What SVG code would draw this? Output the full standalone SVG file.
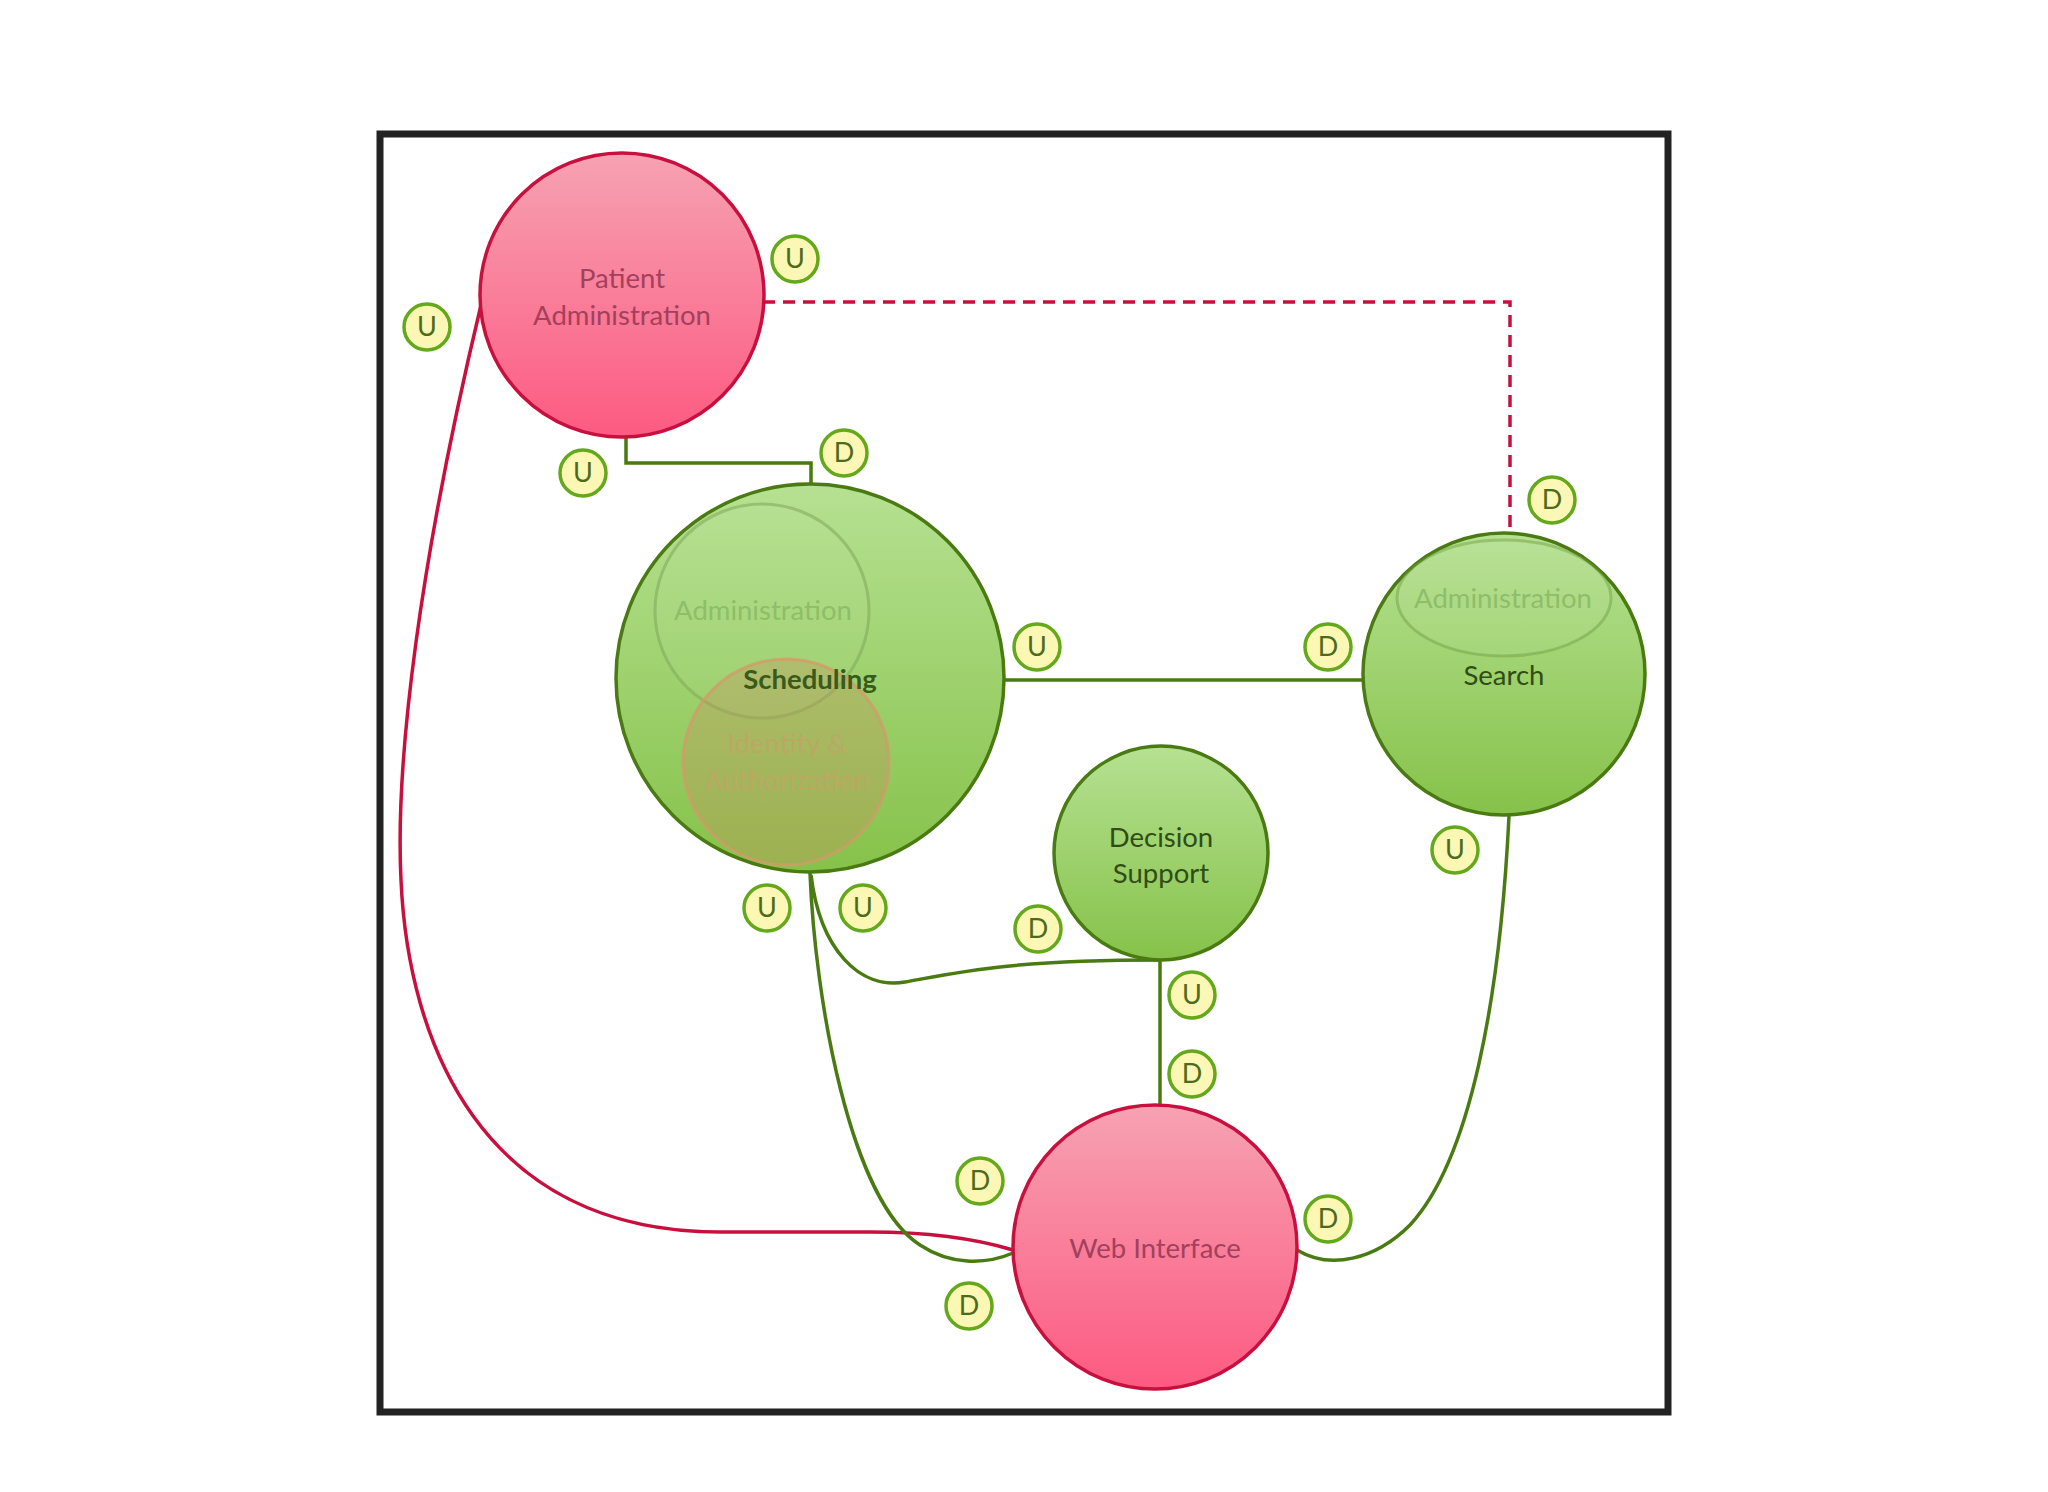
<svg xmlns="http://www.w3.org/2000/svg" width="2048" height="1492" viewBox="0 0 2048 1492">
<defs>
<linearGradient id="pink" x1="0" y1="0" x2="0" y2="1">
<stop offset="0" stop-color="#f6a2b2"/>
<stop offset="1" stop-color="#fd5a81"/>
</linearGradient>
<linearGradient id="green" x1="0" y1="0" x2="0" y2="1">
<stop offset="0" stop-color="#b6e192"/>
<stop offset="1" stop-color="#86c24a"/>
</linearGradient>
<style>
.pink{fill:url(#pink);stroke:#c8103e;stroke-width:3.5}
.green{fill:url(#green);stroke:#4a7a12;stroke-width:3.5}
.lbl{font-family:Lato,"Liberation Sans",sans-serif;font-size:27.5px;text-anchor:middle}
.pl{fill:#a3405c}
.gl{fill:#2f4d14}
.faint{fill:#8ebe68}
.badge circle{fill:#fcf7b4;stroke:#64a81c;stroke-width:3.5}
.badge text{font-family:Lato,"Liberation Sans",sans-serif;font-size:27px;fill:#4d6b1c;text-anchor:middle}
.gc{fill:none;stroke:#4a7a12;stroke-width:3.5}
.rc{fill:none;stroke:#c8103e;stroke-width:3.5}
</style>
</defs>
<rect x="0" y="0" width="2048" height="1492" fill="#ffffff"/>
<rect id="frame" x="380" y="134" width="1288" height="1278" fill="none" stroke="#222222" stroke-width="7"/>

<g id="connectors">
<path class="gc" d="M 626 437 L 626 463 L 811 463 L 811 485"/>
<path class="rc" stroke-dasharray="12 8" d="M 763 302 L 1510 302 L 1510 534"/>
<path class="gc" d="M 1005 680 L 1363 680"/>
<path class="rc" d="M 481 305 C 420 560, 395 760, 401 880 C 408 1040, 480 1232, 720 1232 L 870 1232 C 930 1232, 980 1240, 1013 1250"/>
<path class="gc" d="M 810 873 C 815 1000, 850 1200, 920 1245 C 950 1265, 985 1265, 1013 1253"/>
<path class="gc" d="M 811 875 C 820 950, 860 990, 905 982 C 960 972, 1010 960, 1161 960"/>
<path class="gc" d="M 1160 960 L 1160 1105"/>
<path class="gc" d="M 1297 1250 C 1330 1270, 1375 1260, 1410 1225 C 1470 1160, 1500 1000, 1509 816"/>
</g>

<g id="patient-administration">
<circle class="pink" cx="622" cy="295" r="142"/>
<text class="lbl pl" x="622" y="288">Patient</text>
<text class="lbl pl" x="622" y="325">Administration</text>
</g>

<g id="scheduling">
<circle class="green" cx="810" cy="678" r="194"/>
<circle cx="762" cy="611" r="107" fill="#ffffff" fill-opacity="0.04" stroke="#7fa85a" stroke-opacity="0.55" stroke-width="3"/>
<text class="lbl faint" x="763" y="620">Administration</text>
<circle cx="786" cy="762" r="103" fill="#c8905e" fill-opacity="0.33" stroke="#d49a68" stroke-opacity="0.75" stroke-width="3"/>
<text class="lbl" x="787" y="753" fill="#bba862">Identity &amp;</text>
<text class="lbl" x="787" y="790" fill="#bba862">Authorization</text>
<text class="lbl" x="810" y="689" fill="#3a5a1c" font-weight="bold" font-size="28.5">Scheduling</text>
</g>

<g id="search">
<circle class="green" cx="1504" cy="674" r="141"/>
<ellipse cx="1504" cy="598" rx="107" ry="58" fill="#ffffff" fill-opacity="0.05" stroke="#6f9c40" stroke-opacity="0.45" stroke-width="3"/>
<text class="lbl faint" x="1503" y="608">Administration</text>
<text class="lbl gl" x="1504" y="685">Search</text>
</g>

<g id="decision-support">
<circle class="green" cx="1161" cy="853" r="107"/>
<text class="lbl gl" x="1161" y="847">Decision</text>
<text class="lbl gl" x="1161" y="883">Support</text>
</g>

<g id="web-interface">
<circle class="pink" cx="1155" cy="1247" r="142"/>
<text class="lbl pl" x="1155" y="1258">Web Interface</text>
</g>

<g id="badges">
<g class="badge"><circle cx="795" cy="259" r="23"/><text x="795" y="268">U</text></g>
<g class="badge"><circle cx="427" cy="327" r="23"/><text x="427" y="336">U</text></g>
<g class="badge"><circle cx="583" cy="473" r="23"/><text x="583" y="482">U</text></g>
<g class="badge"><circle cx="844" cy="453" r="23"/><text x="844" y="462">D</text></g>
<g class="badge"><circle cx="1552" cy="500" r="23"/><text x="1552" y="509">D</text></g>
<g class="badge"><circle cx="1037" cy="647" r="23"/><text x="1037" y="656">U</text></g>
<g class="badge"><circle cx="1328" cy="647" r="23"/><text x="1328" y="656">D</text></g>
<g class="badge"><circle cx="1455" cy="850" r="23"/><text x="1455" y="859">U</text></g>
<g class="badge"><circle cx="767" cy="908" r="23"/><text x="767" y="917">U</text></g>
<g class="badge"><circle cx="863" cy="908" r="23"/><text x="863" y="917">U</text></g>
<g class="badge"><circle cx="1038" cy="929" r="23"/><text x="1038" y="938">D</text></g>
<g class="badge"><circle cx="1192" cy="995" r="23"/><text x="1192" y="1004">U</text></g>
<g class="badge"><circle cx="1192" cy="1074" r="23"/><text x="1192" y="1083">D</text></g>
<g class="badge"><circle cx="980" cy="1181" r="23"/><text x="980" y="1190">D</text></g>
<g class="badge"><circle cx="1328" cy="1219" r="23"/><text x="1328" y="1228">D</text></g>
<g class="badge"><circle cx="969" cy="1306" r="23"/><text x="969" y="1315">D</text></g>
</g>
</svg>
